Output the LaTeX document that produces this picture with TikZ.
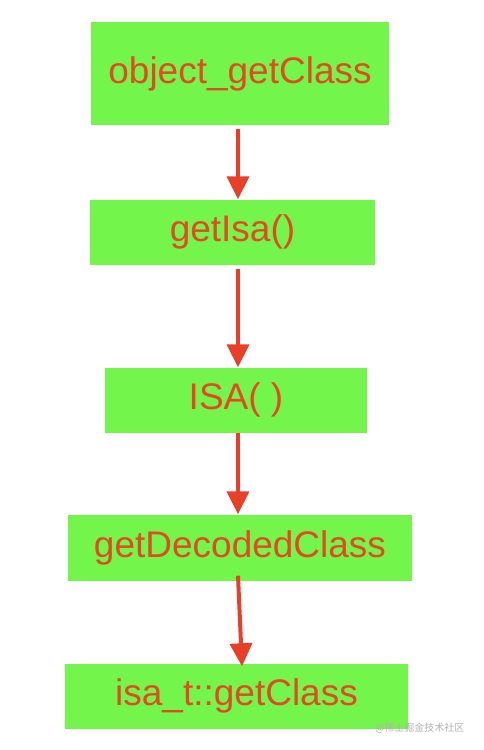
\documentclass[tikz,border=0pt]{standalone}
\usepackage{fontspec}
\setmainfont{Liberation Sans}
\newfontfamily\cjk{Noto Sans CJK SC}
\usetikzlibrary{arrows.meta}

\definecolor{boxgreen}{RGB}{116,245,76}
\definecolor{arrowred}{RGB}{232,64,40}
\definecolor{textred}{RGB}{226,74,32}

\begin{document}
\begin{tikzpicture}[x=1pt, y=-1pt, font=\fontsize{37}{40}\selectfont]

% --- Styles ---
\tikzset{
    callbox/.style={rectangle, fill=boxgreen, text=textred, inner sep=0pt, align=center},
    flow/.style={-{Triangle[length=23pt, width=22pt]}, line width=4pt, arrowred},
}

\useasboundingbox (0,0) rectangle (484,750);

% --- Call chain, top to bottom ---
\node[callbox, minimum width=298pt, minimum height=103pt] (objget) at (240,73.5) {object\_getClass};
\node[callbox, minimum width=285pt, minimum height=65pt] (getisa) at (232.5,232) {getIsa()};
\node[callbox, minimum width=262pt, minimum height=65pt] (isactor) at (236,400) {ISA( )};
\node[callbox, minimum width=344pt, minimum height=66pt] (decoded) at (240,547.5) {getDecodedClass};
\node[callbox, minimum width=343pt, minimum height=65pt] (isaclass) at (236.5,696) {isa\_t::getClass};

% --- Arrows ---
\draw[flow] ([xshift=-2pt, yshift=-4pt]objget.south) -- ([xshift=5.5pt]getisa.north);
\draw[flow] ([xshift=5.5pt, yshift=-4pt]getisa.south) -- ([xshift=2pt]isactor.north);
\draw[flow] ([xshift=2pt]isactor.south) -- ([xshift=-2pt]decoded.north);
\draw[flow] ([xshift=-2pt, yshift=5pt]decoded.south) -- ([xshift=5.5pt, yshift=-3pt]isaclass.north);

% --- Watermark ---
\node[font=\cjk\fontsize{10}{12}\selectfont, text=black!30, anchor=east] (mark) at (468,728) {@稀土掘金技术社区};

\end{tikzpicture}
\end{document}
